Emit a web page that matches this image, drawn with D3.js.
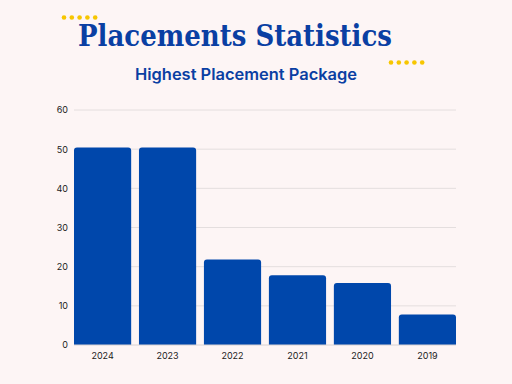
<!DOCTYPE html>
<html><head><meta charset="utf-8">
<script src="https://cdn.jsdelivr.net/npm/d3@7"></script>
<style>html,body{margin:0;padding:0;background:#fdf5f5;}</style>
</head><body>
<svg id="c" width="512" height="384"></svg>
<script>
const years = ["2024","2023","2022","2021","2020","2019"];
const packages = [50.4, 50.4, 21.8, 17.8, 15.8, 7.8];
const yTicks = [0,10,20,30,40,50,60];
const title = "Placements Statistics";
const subtitle = "Highest Placement Package";

const svg = d3.select("#c");
svg.append("rect").attr("width",512).attr("height",384).attr("fill","#fdf5f5");

const m = {l:74, r:56, t:110, b:39};
const W = 512 - m.l - m.r, H = 384 - m.t - m.b;
const x = d3.scaleBand().domain(years).range([m.l, m.l+W]).paddingInner(0.12).paddingOuter(0);
const y = d3.scaleLinear().domain([0,60]).range([m.t+H, m.t]);

svg.append("g").selectAll("line").data(yTicks.filter(d=>d>0)).join("line")
  .attr("x1", m.l).attr("x2", m.l+W).attr("y1", d=>y(d)).attr("y2", d=>y(d))
  .attr("stroke","#e4dede").attr("stroke-width",1);

const r = 3;
svg.append("g").selectAll("path").data(years).join("path")
  .attr("fill","#0047ab")
  .attr("d",(d,i)=>{
    const x0 = x(d), w = x.bandwidth(), y0 = y(packages[i]), yb = y(0);
    return `M${x0},${yb}V${y0+r}Q${x0},${y0} ${x0+r},${y0}H${x0+w-r}Q${x0+w},${y0} ${x0+w},${y0+r}V${yb}Z`;
  });

svg.append("line").attr("x1",m.l).attr("x2",m.l+W).attr("y1",y(0)).attr("y2",y(0))
  .attr("stroke","#d8d2d2");

const ya = svg.append("g").attr("transform",`translate(${m.l-6},0)`)
  .call(d3.axisLeft(y).tickValues(yTicks).tickSize(0).tickPadding(0));
ya.select(".domain").remove();
ya.selectAll("text").attr("font-family","Inter, 'Noto Sans', sans-serif").attr("font-size",9).attr("fill","#222");

const xa = svg.append("g").attr("transform",`translate(0,${y(0)+5})`)
  .call(d3.axisBottom(x).tickSize(0).tickPadding(3));
xa.select(".domain").remove();
xa.selectAll("text").attr("font-family","Inter, 'Noto Sans', sans-serif").attr("font-size",9).attr("fill","#222");

svg.append("text").attr("x",235).attr("y",46).attr("text-anchor","middle")
  .attr("font-family","'DejaVu Serif', 'Liberation Serif', serif").attr("font-weight","bold")
  .attr("font-size",30).attr("fill","#0a3fa3").attr("textLength",314).attr("lengthAdjust","spacingAndGlyphs")
  .text(title);
svg.append("text").attr("x",246).attr("y",80).attr("text-anchor","middle")
  .attr("font-family","Inter, 'Noto Sans', sans-serif").attr("font-weight",600)
  .attr("font-size",16).attr("fill","#0a3fa3").attr("textLength",222).attr("lengthAdjust","spacingAndGlyphs")
  .text(subtitle);

const dotsL = [0,1,2,3,4], dotsR = [0,1,2,3,4];
svg.append("g").selectAll("circle").data(dotsL).join("circle")
  .attr("cx",d=>64+d*7.8).attr("cy",17.5).attr("r",2.3).attr("fill","#f7c600");
svg.append("g").selectAll("circle").data(dotsR).join("circle")
  .attr("cx",d=>391+d*7.8).attr("cy",62.5).attr("r",2.3).attr("fill","#f7c600");
</script>
</body></html>
